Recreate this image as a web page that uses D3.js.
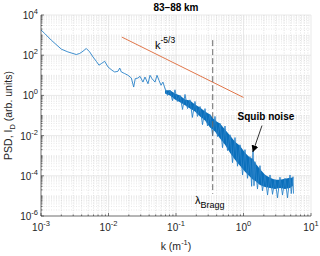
<!DOCTYPE html>
<html>
<head>
<meta charset="utf-8">
<script src="https://cdn.jsdelivr.net/npm/d3@7"></script>
<style>
  body { margin: 0; background: #fff; }
  svg { display: block; font-family: "Liberation Sans", Arial, sans-serif; }
</style>
</head>
<body>
<div id="chart"></div>
<script>
// tick values
var xTicks = [1e-3, 1e-2, 1e-1, 1, 10];
var yTicks = [1e-6, 1e-4, 1e-2, 1, 1e2, 1e4];

// smooth-ish low wavenumber part of the spectrum
var lowK = [0.001, 0.001135, 0.00142, 0.0020, 0.0025, 0.00333, 0.00374, 0.00419, 0.00469, 0.00526,
  0.00589, 0.00659, 0.00723, 0.00782, 0.00878, 0.00984, 0.01127, 0.01236, 0.0138, 0.01466,
  0.0155, 0.0174, 0.0195, 0.0218, 0.0236, 0.0249, 0.0273, 0.0293, 0.0324, 0.0347,
  0.0385, 0.0412, 0.0441, 0.0489, 0.0523, 0.056, 0.060, 0.064, 0.0687];
var lowPsd = [1800, 1200, 560, 200, 146, 108, 122, 158, 216, 146,
  82, 50, 32, 38, 50, 26, 17.8, 14.6, 15.8, 23,
  14.6, 12.2, 10, 7.3, 2.6, 6.8, 7.3, 8.9, 4.6, 8.2,
  3.8, 10, 6.8, 4.6, 10, 5.6, 3.2, 4.6, 2.2];

// noisy high wavenumber part: peaks and troughs of the noise
var peakK = [0.0687, 0.0815, 0.0966, 0.1146, 0.136, 0.161, 0.191, 0.227, 0.269, 0.319,
  0.378, 0.449, 0.532, 0.631, 0.748, 0.887, 1.052, 1.248, 1.384, 1.48,
  1.754, 2.08, 2.47, 2.93, 3.47, 4.12, 4.89, 5.41];
var peakPsd = [2.24, 1.8, 1.9, 1.0, 1.12, 0.6, 0.5, 0.28, 0.22, 0.11,
  0.09, 0.04, 0.03, 0.011, 0.008, 0.0035, 0.002, 9e-4, 0.00178, 5e-4,
  3.2e-4, 1.1e-4, 1.1e-4, 6.5e-5, 8.5e-5, 7.5e-5, 1.1e-4, 9e-5];
var troughK = [0.0748, 0.0888, 0.105, 0.125, 0.148, 0.175, 0.208, 0.247, 0.293, 0.348,
  0.412, 0.489, 0.58, 0.688, 0.815, 0.967, 1.147, 1.32, 1.43, 1.61,
  1.91, 2.27, 2.69, 3.19, 3.78, 4.49, 5.1, 5.5];
var troughPsd = [1.0, 0.55, 0.5, 0.2, 0.22, 0.08, 0.09, 0.035, 0.03, 0.01,
  0.009, 0.0025, 0.0018, 4.5e-4, 3e-4, 1.1e-4, 7.5e-5, 3e-5, 3.2e-5, 2.2e-5,
  1.8e-5, 1.1e-5, 1.2e-5, 8e-6, 1.1e-5, 8e-6, 1.3e-5, 1.3e-5];
// dense centre of the noise band
var coreHi = [1.78, 1.78, 1.26, 1.0, 0.63, 0.56, 0.355, 0.25, 0.158, 0.112,
  0.0562, 0.0398, 0.02, 0.01, 0.005, 0.00316, 0.00141, 7.9e-4, 7.1e-4, 4.5e-4,
  2.2e-4, 1.12e-4, 7.9e-5, 6.3e-5, 6.3e-5, 7.1e-5, 7.9e-5, 7.9e-5];
var coreLo = [1.26, 1.0, 0.63, 0.45, 0.32, 0.22, 0.16, 0.089, 0.056, 0.025,
  0.0158, 0.0071, 0.0035, 0.0014, 6.3e-4, 3.2e-4, 1.6e-4, 8.9e-5, 6.3e-5, 5.6e-5,
  3.5e-5, 2.8e-5, 2.5e-5, 2.2e-5, 2.5e-5, 2.2e-5, 2.5e-5, 3.2e-5];

// Kolmogorov k^-5/3 reference line
var slopeK = [0.0158, 1];
var slopePsd = [794, 0.79];

// Bragg wavenumber marker
var braggK = 0.35;
var braggPsd = [562, 1.26e-5];

// squib noise arrow (tail, tip)
var arrowK = [1.88, 1.38];
var arrowPsd = [0.0316, 0.00158];

var W = 320, H = 256;
var m = { l: 41, r: 311, t: 15, b: 216 };

var svg = d3.select("#chart").append("svg")
  .attr("width", W).attr("height", H);

var x = d3.scaleLog().domain([1e-3, 10]).range([m.l, m.r]);
var y = d3.scaleLog().domain([1e-6, 1e4]).range([m.b, m.t]);

// minor values 1..9 x 10^n
var xMinor = [], yMinor = [];
for (var e = -3; e < 1; e++)
  for (var j = 2; j < 10; j++) xMinor.push(j * Math.pow(10, e));
for (var e = -6; e < 4; e++)
  for (var j = 1; j < 10; j++) if (!(j == 1 && e % 2 == 0)) yMinor.push(j * Math.pow(10, e));

var grid = svg.append("g");
grid.selectAll(".gxm").data(xMinor).enter().append("line")
  .attr("x1", function (d) { return x(d); }).attr("x2", function (d) { return x(d); })
  .attr("y1", m.t).attr("y2", m.b)
  .attr("stroke", "#cfcfcf").attr("stroke-width", 0.6).attr("stroke-dasharray", "1,1.5");
grid.selectAll(".gym").data(yMinor).enter().append("line")
  .attr("y1", function (d) { return y(d); }).attr("y2", function (d) { return y(d); })
  .attr("x1", m.l).attr("x2", m.r)
  .attr("stroke", "#d6d6d6").attr("stroke-width", 0.6).attr("stroke-dasharray", "1,1.5");
grid.selectAll(".gx").data(xTicks).enter().append("line")
  .attr("x1", function (d) { return x(d); }).attr("x2", function (d) { return x(d); })
  .attr("y1", m.t).attr("y2", m.b)
  .attr("stroke", "#e0e0e0").attr("stroke-width", 0.7);
grid.selectAll(".gy").data(yTicks).enter().append("line")
  .attr("y1", function (d) { return y(d); }).attr("y2", function (d) { return y(d); })
  .attr("x1", m.l).attr("x2", m.r)
  .attr("stroke", "#e0e0e0").attr("stroke-width", 0.7);

// spectrum
var core = peakK.map(function (k, i) { return { k: k, hi: coreHi[i], lo: coreLo[i] }; });
svg.append("path").datum(core)
  .attr("d", d3.area().x(function (d) { return x(d.k); })
    .y0(function (d) { return y(d.lo); }).y1(function (d) { return y(d.hi); }))
  .attr("fill", "#0a6fbb");

var spec = lowK.map(function (k, i) { return { k: k, p: lowPsd[i] }; });
peakK.forEach(function (k, i) {
  spec.push({ k: k, p: peakPsd[i] });
  spec.push({ k: troughK[i], p: troughPsd[i] });
});
svg.append("path").datum(spec)
  .attr("d", d3.line().x(function (d) { return x(d.k); }).y(function (d) { return y(d.p); }))
  .attr("fill", "none").attr("stroke", "#2a82c8").attr("stroke-width", 0.9)
  .attr("stroke-linejoin", "round");

// -5/3 line
var slope = slopeK.map(function (k, i) { return { k: k, p: slopePsd[i] }; });
svg.append("path").datum(slope)
  .attr("d", d3.line().x(function (d) { return x(d.k); }).y(function (d) { return y(d.p); }))
  .attr("stroke", "#e0764a").attr("stroke-width", 1);

// Bragg dashed line
svg.append("line")
  .attr("x1", x(braggK)).attr("x2", x(braggK))
  .attr("y1", y(braggPsd[0])).attr("y2", y(braggPsd[1]))
  .attr("stroke", "#6a6a6a").attr("stroke-width", 1).attr("stroke-dasharray", "6,3");

// axes
var ax = svg.append("g").attr("stroke", "#262626").attr("stroke-width", 0.6);
ax.append("line").attr("x1", m.l).attr("x2", m.r).attr("y1", m.b).attr("y2", m.b);
ax.append("line").attr("x1", m.l).attr("x2", m.l).attr("y1", m.t).attr("y2", m.b);
ax.selectAll(".tx").data(xTicks).enter().append("line")
  .attr("x1", function (d) { return x(d); }).attr("x2", function (d) { return x(d); })
  .attr("y1", m.b).attr("y2", m.b - 3);
ax.selectAll(".txm").data(xMinor).enter().append("line")
  .attr("x1", function (d) { return x(d); }).attr("x2", function (d) { return x(d); })
  .attr("y1", m.b).attr("y2", m.b - 1.6);
ax.selectAll(".ty").data(yTicks).enter().append("line")
  .attr("y1", function (d) { return y(d); }).attr("y2", function (d) { return y(d); })
  .attr("x1", m.l).attr("x2", m.l + 3);
ax.selectAll(".tym").data(yMinor).enter().append("line")
  .attr("y1", function (d) { return y(d); }).attr("y2", function (d) { return y(d); })
  .attr("x1", m.l).attr("x2", m.l + 1.6);

function expLabel(sel, d) {
  var e = Math.round(Math.log10(d));
  sel.append("tspan").text("10");
  sel.append("tspan").attr("font-size", 7.5).attr("dy", -5).text(e);
}

svg.selectAll(".xl").data(xTicks).enter().append("text")
  .attr("x", function (d) { return x(d); }).attr("y", 231)
  .attr("text-anchor", "middle").attr("font-size", 10).attr("fill", "#262626")
  .each(function (d) { expLabel(d3.select(this), d); });

svg.selectAll(".yl").data(yTicks).enter().append("text")
  .attr("x", m.l - 3).attr("y", function (d) { return y(d) + 4; })
  .attr("text-anchor", "end").attr("font-size", 10).attr("fill", "#262626")
  .each(function (d) { expLabel(d3.select(this), d); });

// titles
svg.append("text").attr("x", (m.l + m.r) / 2).attr("y", 11)
  .attr("text-anchor", "middle").attr("font-size", 10).attr("font-weight", "bold")
  .attr("fill", "#000").text("83\u201388 km");

var xl = svg.append("text").attr("x", (m.l + m.r) / 2).attr("y", 250)
  .attr("text-anchor", "middle").attr("font-size", 10.5).attr("fill", "#262626");
xl.append("tspan").text("k (m");
xl.append("tspan").attr("font-size", 7.5).attr("dy", -5).text("-1");
xl.append("tspan").attr("dy", 5).text(")");

var yl = svg.append("text")
  .attr("transform", "translate(12," + ((m.t + m.b) / 2) + ") rotate(-90)")
  .attr("text-anchor", "middle").attr("font-size", 10.5).attr("fill", "#262626");
yl.append("tspan").text("PSD, I");
yl.append("tspan").attr("font-size", 7.5).attr("dy", 3).text("D");
yl.append("tspan").attr("dy", -3).text(" (arb. units)");

// annotations
var kt = svg.append("text").attr("x", x(0.0489)).attr("y", y(200))
  .attr("font-size", 11).attr("fill", "#000");
kt.append("tspan").text("k");
kt.append("tspan").attr("font-size", 8.5).attr("dy", -6).text("-5/3");

var bt = svg.append("text").attr("x", x(0.191)).attr("y", y(4e-6))
  .attr("font-size", 11).attr("fill", "#000");
bt.append("tspan").text("\u03bb");
bt.append("tspan").attr("font-size", 9).attr("dy", 4).text("Bragg");

svg.append("text").attr("x", x(2.15)).attr("y", y(0.063))
  .attr("text-anchor", "middle").attr("font-size", 10).attr("font-weight", "bold")
  .attr("fill", "#000").text("Squib noise");

svg.append("defs").append("marker").attr("id", "ah")
  .attr("viewBox", "0 0 10 10").attr("refX", 9).attr("refY", 5)
  .attr("markerWidth", 7).attr("markerHeight", 7).attr("orient", "auto")
  .attr("markerUnits", "userSpaceOnUse")
  .append("path").attr("d", "M0,0 L10,5 L0,10 z").attr("fill", "#000");
svg.append("line")
  .attr("x1", x(arrowK[0])).attr("y1", y(arrowPsd[0]))
  .attr("x2", x(arrowK[1])).attr("y2", y(arrowPsd[1]))
  .attr("stroke", "#000").attr("stroke-width", 0.8).attr("marker-end", "url(#ah)");
</script>
</body>
</html>
